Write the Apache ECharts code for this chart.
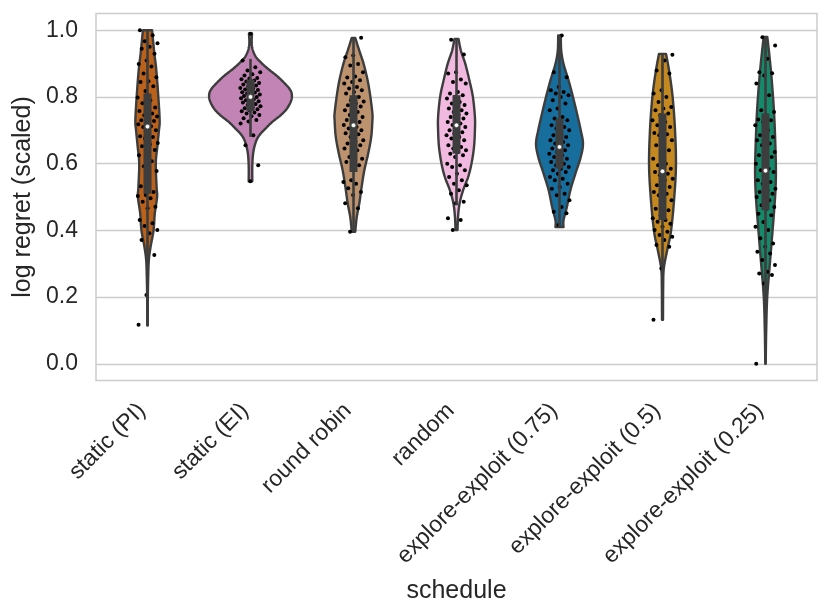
<!DOCTYPE html>
<html>
<head>
<meta charset="utf-8">
<script src="https://cdn.jsdelivr.net/npm/echarts@6/dist/echarts.min.js"></script>
<style>
html,body{margin:0;padding:0;background:#ffffff;}
#chart{width:831px;height:616px;}
</style>
</head>
<body>
<div id="chart"></div>
<script>
// ---------------- data ----------------
const categories = ['static (PI)', 'static (EI)', 'round robin', 'random',
  'explore-exploit (0.75)', 'explore-exploit (0.5)', 'explore-exploit (0.25)'];
const yTickValues = [0, 0.2, 0.4, 0.6, 0.8, 1.0];

// violin outlines: [value, relative density] (top -> bottom)
const densityStaticPI = [[1.0,0.111],[0.93,0.167],[0.88,0.214],[0.80,0.263],[0.73,0.295],[0.70,0.278],[0.65,0.238],[0.60,0.201],[0.53,0.221],[0.50,0.233],[0.45,0.177],[0.40,0.147],[0.35,0.074],[0.31,0.032],[0.25,0.015],[0.18,0.006],[0.115,0.005]];
const densityStaticEI = [[0.99,0.037],[0.954,0.032],[0.924,0.111],[0.904,0.246],[0.884,0.425],[0.864,0.631],[0.844,0.803],[0.825,0.941],[0.81,1.0],[0.79,0.99],[0.765,0.885],[0.745,0.732],[0.725,0.528],[0.705,0.364],[0.685,0.214],[0.665,0.130],[0.635,0.069],[0.595,0.044],[0.547,0.044]];
const densityRoundRobin = [[0.977,0.042],[0.939,0.140],[0.899,0.246],[0.849,0.344],[0.80,0.410],[0.75,0.459],[0.73,0.459],[0.68,0.430],[0.63,0.356],[0.58,0.263],[0.53,0.197],[0.48,0.140],[0.44,0.079],[0.396,0.042]];
const densityRandom = [[0.974,0.049],[0.939,0.106],[0.899,0.214],[0.849,0.314],[0.80,0.398],[0.74,0.447],[0.70,0.447],[0.65,0.425],[0.60,0.364],[0.56,0.283],[0.52,0.160],[0.48,0.074],[0.44,0.037],[0.401,0.025]];
const densityEE075 = [[0.984,0.032],[0.939,0.042],[0.899,0.098],[0.849,0.221],[0.80,0.327],[0.75,0.425],[0.70,0.516],[0.66,0.570],[0.62,0.516],[0.57,0.386],[0.52,0.263],[0.47,0.179],[0.43,0.098],[0.41,0.098]];
const densityEE050 = [[0.929,0.086],[0.875,0.165],[0.80,0.246],[0.705,0.302],[0.60,0.327],[0.506,0.290],[0.40,0.209],[0.336,0.106],[0.286,0.032],[0.236,0.017],[0.132,0.012]];
const densityEE025 = [[0.98,0.044],[0.92,0.098],[0.85,0.152],[0.75,0.209],[0.65,0.241],[0.57,0.253],[0.50,0.233],[0.40,0.172],[0.30,0.106],[0.20,0.042],[0.10,0.017],[0.0,0.005]];

// inner box: [whisker low, q1, median, q3, whisker high]
const boxStaticPI = [0.115, 0.51, 0.711, 0.81, 1.0];
const boxStaticEI = [0.68, 0.757, 0.80, 0.852, 0.914];
const boxRoundRobin = [0.396, 0.575, 0.715, 0.805, 0.977];
const boxRandom = [0.475, 0.63, 0.715, 0.805, 0.974];
const boxEE075 = [0.41, 0.585, 0.65, 0.735, 0.984];
const boxEE050 = [0.132, 0.431, 0.577, 0.75, 0.929];
const boxEE025 = [0.0, 0.46, 0.579, 0.75, 0.98];

// strip points (observations)
const pointsStaticPI = [1.0,0.985,0.967,0.961,0.95,0.944,0.929,0.909,0.899,0.891,0.87,0.859,0.847,0.845,0.832,0.818,0.798,0.79,0.781,0.768,0.762,0.758,0.75,0.745,0.741,0.735,0.73,0.728,0.722,0.718,0.712,0.71,0.7,0.693,0.682,0.68,0.675,0.662,0.658,0.652,0.641,0.63,0.625,0.607,0.592,0.578,0.553,0.532,0.515,0.506,0.503,0.496,0.486,0.471,0.466,0.431,0.421,0.413,0.401,0.391,0.371,0.326,0.206,0.117];
const pointsStaticEI = [0.989,0.909,0.889,0.879,0.874,0.868,0.864,0.857,0.855,0.853,0.849,0.846,0.842,0.839,0.837,0.834,0.831,0.827,0.825,0.822,0.821,0.817,0.814,0.813,0.81,0.807,0.806,0.803,0.8,0.797,0.796,0.793,0.79,0.787,0.784,0.783,0.779,0.776,0.772,0.769,0.766,0.763,0.76,0.757,0.753,0.75,0.746,0.742,0.736,0.731,0.726,0.72,0.685,0.655,0.595,0.547];
const pointsRoundRobin = [0.977,0.924,0.919,0.899,0.894,0.874,0.861,0.858,0.85,0.845,0.84,0.83,0.825,0.82,0.815,0.81,0.8,0.79,0.786,0.78,0.775,0.771,0.765,0.76,0.755,0.746,0.74,0.735,0.731,0.725,0.72,0.716,0.71,0.705,0.7,0.696,0.691,0.688,0.68,0.67,0.666,0.66,0.655,0.65,0.645,0.64,0.62,0.615,0.61,0.605,0.595,0.55,0.545,0.54,0.526,0.515,0.506,0.481,0.466,0.396];
const pointsRandom = [0.971,0.927,0.874,0.87,0.852,0.845,0.84,0.815,0.81,0.805,0.8,0.795,0.785,0.78,0.776,0.77,0.765,0.76,0.755,0.75,0.746,0.74,0.735,0.73,0.725,0.72,0.716,0.71,0.705,0.7,0.694,0.69,0.685,0.68,0.675,0.67,0.66,0.655,0.65,0.645,0.64,0.635,0.63,0.625,0.62,0.6,0.595,0.59,0.58,0.57,0.56,0.55,0.54,0.535,0.52,0.51,0.486,0.481,0.436,0.431,0.401];
const pointsEE075 = [0.984,0.874,0.859,0.83,0.82,0.815,0.81,0.805,0.8,0.79,0.78,0.765,0.76,0.74,0.735,0.73,0.72,0.715,0.71,0.705,0.7,0.69,0.685,0.68,0.675,0.67,0.665,0.66,0.655,0.65,0.645,0.64,0.635,0.63,0.625,0.62,0.615,0.61,0.605,0.6,0.595,0.59,0.585,0.58,0.575,0.57,0.56,0.555,0.55,0.54,0.53,0.525,0.51,0.505,0.49,0.47,0.456,0.451,0.416];
const pointsEE050 = [0.926,0.909,0.879,0.87,0.82,0.81,0.8,0.785,0.77,0.765,0.76,0.75,0.745,0.73,0.725,0.715,0.71,0.705,0.692,0.688,0.685,0.67,0.66,0.655,0.64,0.635,0.615,0.6,0.595,0.585,0.58,0.575,0.57,0.565,0.555,0.55,0.535,0.53,0.52,0.515,0.51,0.505,0.49,0.48,0.465,0.46,0.445,0.436,0.431,0.426,0.42,0.411,0.401,0.396,0.386,0.381,0.371,0.356,0.351,0.286,0.132];
const pointsEE025 = [0.979,0.954,0.914,0.874,0.871,0.864,0.84,0.805,0.76,0.755,0.745,0.732,0.73,0.725,0.715,0.7,0.685,0.68,0.675,0.67,0.66,0.655,0.635,0.63,0.625,0.62,0.615,0.6,0.585,0.58,0.575,0.56,0.55,0.545,0.54,0.525,0.52,0.515,0.51,0.505,0.5,0.49,0.475,0.47,0.465,0.45,0.445,0.425,0.411,0.401,0.376,0.361,0.351,0.336,0.331,0.311,0.296,0.276,0.271,0.266,0.241,0.0];

// ---------------- styling ----------------
const violinColors = ['#ba611b', '#c283b5', '#bd926e', '#f1b8e0', '#176d9c', '#c38820', '#158a6a'];
const gray = '#3d3d3d';
const textColor = '#262626';
const fontFamily = '"Liberation Sans", Arial, Helvetica, sans-serif';

const densities = [densityStaticPI, densityStaticEI, densityRoundRobin, densityRandom, densityEE075, densityEE050, densityEE025];
const boxes = [boxStaticPI, boxStaticEI, boxRoundRobin, boxRandom, boxEE075, boxEE050, boxEE025];
const pointSets = [pointsStaticPI, pointsStaticEI, pointsRoundRobin, pointsRandom, pointsEE075, pointsEE050, pointsEE025];

// Catmull-Rom smoothing of an outline profile
function smoothProfile(prof) {
  const out = [];
  const n = prof.length;
  for (let i = 0; i < n - 1; i++) {
    const p0 = prof[Math.max(0, i - 1)], p1 = prof[i], p2 = prof[i + 1], p3 = prof[Math.min(n - 1, i + 2)];
    const steps = 12;
    for (let s = 0; s < steps; s++) {
      const t = s / steps, t2 = t * t, t3 = t2 * t;
      const f = (a, b, c, d) => 0.5 * ((2 * b) + (-a + c) * t + (2 * a - 5 * b + 4 * c - d) * t2 + (-a + 3 * b - 3 * c + d) * t3);
      out.push([f(p0[0], p1[0], p2[0], p3[0]), Math.max(0, f(p0[1], p1[1], p2[1], p3[1]))]);
    }
  }
  out.push(prof[n - 1]);
  return out;
}
const smoothDensities = densities.map(smoothProfile);

const violinData = categories.map((c, i) => [i, boxes[i][2]]);
const boxData = boxes.map((b, i) => [i, b[0], b[1], b[2], b[3], b[4]]);
const pointData = [];
pointSets.forEach((arr, ci) => arr.forEach((v, k) => pointData.push([ci, v, k])));

const chart = echarts.init(document.getElementById('chart'), null, {renderer: 'canvas'});
const option = {
  backgroundColor: '#ffffff',
  animation: false,
  textStyle: {fontFamily: fontFamily},
  grid: {
    left: 96, right: 14, top: 13.5, bottom: 235.5,
    show: true, borderColor: '#cccccc', borderWidth: 1.5, backgroundColor: '#ffffff',
    containLabel: false, outerBoundsMode: 'none'
  },
  xAxis: {
    type: 'category',
    data: categories,
    boundaryGap: true,
    name: 'schedule',
    nameLocation: 'middle',
    nameGap: 198,
    nameTextStyle: {fontSize: 25, color: textColor, fontFamily: fontFamily},
    axisLine: {show: false},
    axisTick: {show: false},
    splitLine: {show: false},
    axisLabel: {
      interval: 0, rotate: 45, margin: 21, padding: [0, 8, 0, 0],
      fontSize: 23, color: textColor, fontFamily: fontFamily
    }
  },
  yAxis: {
    type: 'value',
    min: -0.05, max: 1.05,
    name: 'log regret (scaled)',
    nameLocation: 'middle',
    nameRotate: 90,
    nameGap: 57,
    nameTextStyle: {fontSize: 25, color: textColor, fontFamily: fontFamily},
    axisLine: {show: false},
    axisTick: {show: false, customValues: yTickValues},
    splitLine: {show: true, lineStyle: {color: '#cccccc', width: 1.4}},
    axisLabel: {
      customValues: yTickValues,
      formatter: v => Number(v).toFixed(1),
      margin: 18, fontSize: 23, color: textColor, fontFamily: fontFamily
    }
  },
  series: [
    {
      type: 'custom',
      name: 'violins',
      coordinateSystem: 'cartesian2d',
      z: 2,
      encode: {x: 0, y: 1},
      data: violinData,
      renderItem: function (params, api) {
        const ci = api.value(0);
        const prof = smoothDensities[ci];
        const band = api.size([1, 0])[0];
        const halfMax = band * 0.4;
        const right = [], left = [];
        prof.forEach(function (p) {
          const c = api.coord([ci, p[0]]);
          right.push([c[0] + p[1] * halfMax, c[1]]);
          left.push([c[0] - p[1] * halfMax, c[1]]);
        });
        const pts = right.concat(left.reverse());
        return {
          type: 'polygon',
          shape: {points: pts},
          style: {fill: violinColors[ci], stroke: gray, lineWidth: 2.4, lineJoin: 'round'}
        };
      }
    },
    {
      type: 'custom',
      name: 'points',
      coordinateSystem: 'cartesian2d',
      z: 3,
      encode: {x: 0, y: 1},
      data: pointData,
      renderItem: function (params, api) {
        const ci = api.value(0), v = api.value(1), k = api.value(2);
        const c = api.coord([ci, v]);
        const band = api.size([1, 0])[0];
        const j = ((k * 0.6180339887 + ci * 0.37 + 0.13) % 1) - 0.5;
        return {
          type: 'circle',
          shape: {cx: c[0] + j * 0.2 * band, cy: c[1], r: 2},
          style: {fill: '#000000'}
        };
      }
    },
    {
      type: 'custom',
      name: 'box',
      coordinateSystem: 'cartesian2d',
      z: 4,
      encode: {x: 0, y: [1, 2, 3, 4, 5]},
      data: boxData,
      renderItem: function (params, api) {
        const ci = api.value(0);
        const lo = api.coord([ci, api.value(1)]);
        const q1 = api.coord([ci, api.value(2)]);
        const med = api.coord([ci, api.value(3)]);
        const q3 = api.coord([ci, api.value(4)]);
        const hi = api.coord([ci, api.value(5)]);
        return {
          type: 'group',
          children: [
            {type: 'line', shape: {x1: lo[0], y1: lo[1], x2: hi[0], y2: hi[1]}, style: {stroke: gray, lineWidth: 2.6}},
            {type: 'line', shape: {x1: q1[0], y1: q1[1], x2: q3[0], y2: q3[1]}, style: {stroke: gray, lineWidth: 8}},
            {type: 'circle', shape: {cx: med[0], cy: med[1], r: 2.3}, style: {fill: '#ffffff', stroke: gray, lineWidth: 0.6}}
          ]
        };
      }
    }
  ]
};
chart.setOption(option);
</script>
</body>
</html>
